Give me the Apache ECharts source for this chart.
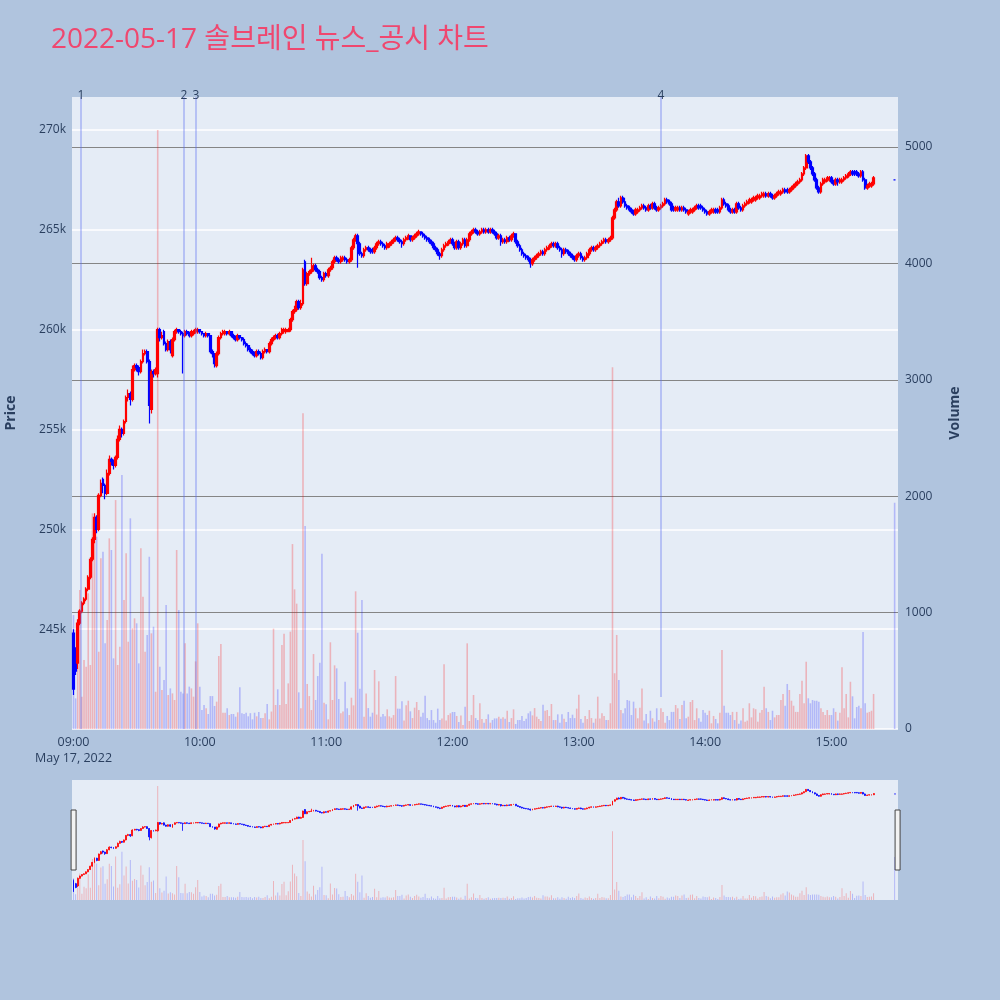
<!DOCTYPE html>
<html><head><meta charset="utf-8">
<script src="https://cdn.jsdelivr.net/npm/echarts@6/dist/echarts.min.js"></script>
<style>html,body{margin:0;padding:0;background:#b0c4de}#c{width:1000px;height:1000px}</style>
</head><body><div id="c"></div><script>
const chartTitle = '2022-05-17 솔브레인 뉴스_공시 차트';
// one row per minute from 09:00 to 15:20, then the 15:30 closing auction: [open, close, low, high]
const ohlc = [
[244800,242000,241700,245000],[243900,242900,242700,244100],[243300,245300,243000,245500],[245300,245900,245200,246000],[245900,246300,245800,246400],
[246300,246500,246200,246600],[246500,247000,246400,247100],[247000,247600,246900,247700],[247600,248500,247500,248600],[248500,249500,248400,249600],
[249500,250600,249300,250800],[250600,250000,249800,250700],[250000,251700,249900,251800],[251700,252300,251600,252500],[252500,252200,251800,252600],
[252200,251800,251500,252300],[251800,252800,251700,253000],[252800,253500,252700,253700],[253500,253400,253200,253600],[253400,253200,253000,253500],
[253200,253600,253100,253700],[253600,254500,253500,254700],[254500,255000,254400,255200],[255000,254800,254600,255100],[254800,255400,254700,255500],
[255400,256600,255300,256700],[256600,256800,256400,257000],[256800,256500,256200,256900],[256500,258000,256400,258200],[258000,258200,257900,258300],
[258200,258100,257900,258300],[258100,257900,257700,258200],[257900,258400,257800,258500],[258400,258800,258300,259000],[258800,258900,258700,259000],
[258900,258400,258300,259000],[258400,256200,255300,258500],[256000,257900,255800,258000],[257900,257800,257600,258000],[257800,258000,257700,258100],
[257800,260000,257600,260100],[260000,259600,259400,260100],[259600,259700,259500,259900],[259900,259300,259200,260000],[259300,259000,258900,259400],
[259000,259400,258900,259500],[259400,259000,258800,259500],[258700,259500,258600,259600],[259500,259900,259400,260000],[259900,260000,259800,260100],
[260000,259900,259800,260000],[259900,259800,259700,260000],[259800,259700,257800,259900],[259700,259900,259600,260000],[259900,259800,259700,260000],
[259800,259700,259600,259900],[259700,259900,259600,260000],[259800,259900,259700,260000],[259900,260000,259800,260100],[259900,260000,259800,260100],
[260000,259900,259800,260000],[259900,259800,259700,259900],[259800,259700,259600,259800],[259700,259800,259600,259900],[259800,259700,259600,259800],
[259700,258900,258800,259700],[258900,258800,258600,259000],[258800,258300,258100,258800],[258200,258800,258100,258900],[258800,259600,258700,259700],
[259600,259800,259500,259900],[259800,259900,259700,260000],[259800,259900,259700,260000],[259900,259800,259700,259900],[259800,259900,259700,260000],
[259900,259700,259600,259900],[259700,259600,259500,259800],[259600,259500,259400,259700],[259500,259700,259400,259800],[259700,259600,259500,259700],
[259600,259500,259400,259600],[259500,259300,259200,259600],[259300,259200,259100,259400],[259200,259000,258900,259300],[259000,258900,258800,259100],
[258900,258800,258700,259000],[258800,258700,258600,258900],[258700,258900,258600,259000],[258900,258800,258700,259000],[258800,258600,258500,258900],
[258600,258900,258500,259000],[258900,259000,258800,259100],[259000,258900,258800,259000],[258900,259300,258800,259400],[259300,259500,259200,259600],
[259500,259600,259400,259700],[259600,259700,259500,259800],[259700,259600,259500,259800],[259600,259800,259500,259900],[259800,260000,259700,260100],
[259900,260000,259800,260100],[259900,260000,259800,260100],[259900,260000,259900,260100],[260000,260500,259900,260600],[260500,260900,260400,261000],
[260900,261000,260800,261200],[261000,261400,260900,261500],[261400,261100,261000,261500],[261100,261300,261000,261500],[261300,263000,261200,263100],
[263400,262300,262200,263500],[262300,262800,262200,262900],[262800,262900,262700,263000],[262900,263000,262800,263600],[263000,263200,262900,263300],
[263200,263000,262900,263300],[263000,262900,262800,263100],[262900,262600,262500,263000],[262600,262500,262400,262700],[262500,262800,262400,262900],
[262800,262700,262600,262900],[262700,263000,262600,263100],[263000,263100,262900,263200],[263100,263400,263000,263500],[263400,263600,263300,263700],
[263600,263500,263400,263700],[263500,263400,263300,263600],[263400,263600,263300,263700],[263500,263600,263400,263700],[263600,263500,263400,263700],
[263500,263400,263300,263600],[263400,263500,263300,263600],[263500,264100,263400,264200],[264100,264500,264000,264600],[264500,264700,264400,264800],
[264700,264300,263100,264800],[264300,263800,263700,264400],[263800,263700,263600,263900],[263700,264000,263600,264100],[264000,264100,263900,264200],
[264100,264000,263900,264200],[264000,263900,263800,264100],[264000,263900,263800,264100],[263900,264100,263800,264200],[264100,264300,264000,264400],
[264300,264400,264200,264500],[264400,264300,264200,264500],[264300,264200,264100,264400],[264200,264100,264000,264300],[264100,264300,264000,264400],
[264200,264300,264100,264400],[264300,264400,264200,264500],[264400,264500,264300,264600],[264500,264600,264400,264700],[264600,264500,264400,264700],
[264500,264400,264300,264600],[264400,264300,264100,264500],[264300,264500,264200,264600],[264500,264600,264400,264700],[264600,264700,264500,264800],
[264700,264500,264400,264700],[264500,264600,264400,264700],[264600,264700,264500,264800],[264700,264800,264600,264900],[264800,264900,264700,265000],
[264900,264800,264700,264900],[264800,264700,264600,264900],[264700,264600,264500,264800],[264600,264500,264400,264700],[264500,264400,264300,264600],
[264400,264300,264200,264500],[264300,264100,264000,264400],[264100,264000,263900,264200],[264000,263800,263700,264100],[263800,263700,263500,263900],
[263700,264000,263600,264100],[264000,264200,263900,264300],[264200,264300,264100,264400],[264300,264400,264200,264500],[264400,264500,264300,264600],
[264500,264300,264200,264600],[264300,264100,264000,264400],[264100,264400,264000,264500],[264400,264100,264000,264500],[264100,264300,264000,264400],
[264300,264500,264200,264600],[264500,264200,264100,264600],[264200,264500,264100,264600],[264500,264800,264400,264900],[264800,264900,264700,265000],
[264900,265000,264800,265100],[265000,264900,264800,265100],[264900,264800,264700,265000],[264800,264900,264700,265000],[264900,265000,264800,265100],
[265000,264900,264800,265100],[264900,265000,264800,265100],[265000,264900,264800,265100],[264900,265000,264800,265100],[265000,264900,264800,265100],
[264900,264800,264700,265000],[264800,264600,264500,264900],[264600,264700,264500,264800],[264700,264400,264200,264800],[264400,264500,264300,264600],
[264500,264400,264300,264600],[264400,264600,264300,264700],[264600,264500,264400,264700],[264500,264700,264400,264800],[264700,264800,264600,264900],
[264800,264400,264300,264800],[264400,264200,264100,264500],[264200,264000,263900,264300],[264000,263800,263700,264100],[263800,263700,263600,263900],
[263700,263600,263500,263800],[263600,263500,263400,263700],[263500,263300,263100,263600],[263300,263500,263200,263600],[263500,263600,263400,263700],
[263600,263700,263500,263800],[263700,263800,263600,263900],[263800,263900,263700,264000],[263900,263800,263700,264000],[263800,264000,263700,264100],
[264000,264100,263900,264200],[264100,264200,264000,264300],[264200,264300,264100,264400],[264300,264200,264100,264400],[264200,264300,264100,264400],
[264300,264100,264000,264400],[264100,264000,263900,264200],[264000,263800,263600,264100],[263800,264000,263700,264100],[264000,263900,263800,264100],
[263900,263800,263700,264000],[263800,263700,263600,263900],[263700,263600,263500,263800],[263600,263500,263400,263700],[263500,263700,263400,263800],
[263700,263800,263600,263900],[263800,263600,263500,263900],[263600,263500,263400,263700],[263500,263600,263400,263700],[263600,263800,263500,263900],
[263800,264000,263700,264100],[264000,264100,263900,264200],[264100,264000,263900,264200],[264000,264100,263900,264200],[264100,264200,264000,264300],
[264200,264300,264100,264400],[264300,264400,264200,264500],[264400,264500,264300,264600],[264500,264400,264300,264600],[264400,264500,264300,264600],
[264500,264600,264400,264700],[264600,265600,264500,265700],[265600,266000,265500,266100],[266000,266400,265900,266500],[266400,266200,266100,266600],
[266200,266600,266100,266700],[266600,266400,266300,266700],[266400,266200,266100,266600],[266200,266100,266000,266300],[266100,266000,265900,266200],
[266000,265900,265800,266100],[265900,265800,265700,266000],[265800,266000,265700,266100],[265900,266000,265800,266100],[266000,266100,265900,266200],
[266100,266200,266000,266300],[266200,266100,266000,266300],[266100,266000,265900,266200],[266000,266200,265900,266300],[266200,266100,266000,266300],
[266100,266300,266000,266400],[266300,266100,266000,266400],[266100,266000,265900,266200],[266000,266100,265900,266200],[266100,266200,266000,266300],
[266200,266300,266100,266400],[266300,266500,266200,266600],[266500,266400,266300,266600],[266400,266300,266200,266500],[266300,266000,265900,266400],
[266100,266000,265900,266200],[266000,266100,265900,266200],[266000,266100,265900,266200],[266100,266000,265900,266200],[266000,266100,265900,266200],
[266100,266000,265900,266200],[266000,265900,265800,266100],[265800,265900,265700,266000],[265900,266000,265800,266100],[265900,266000,265800,266100],
[266000,266100,265900,266200],[266100,266200,266000,266300],[266200,266100,266000,266300],[266200,266100,266000,266300],[266100,266000,265900,266200],
[266000,265900,265800,266100],[265900,265800,265700,266000],[265800,265900,265700,266000],[265900,266000,265800,266100],[265900,266000,265800,266100],
[266000,265900,265800,266100],[266000,265900,265800,266100],[265900,266100,265800,266200],[266100,266500,266000,266600],[266500,266300,266200,266600],
[266300,266200,266100,266400],[266200,266000,265900,266300],[266000,265900,265800,266100],[265900,266000,265800,266100],[266000,265900,265800,266100],
[265900,266300,265800,266400],[266300,266100,266000,266400],[266100,266000,265900,266200],[266000,266200,265900,266300],[266200,266300,266100,266400],
[266300,266400,266200,266500],[266400,266500,266300,266600],[266400,266500,266300,266600],[266500,266600,266400,266700],[266500,266600,266400,266700],
[266600,266700,266500,266800],[266600,266700,266500,266800],[266700,266800,266600,266900],[266700,266800,266600,266900],[266800,266700,266600,266900],
[266700,266800,266600,266900],[266800,266700,266600,266900],[266700,266600,266500,266800],[266600,266700,266500,266800],[266700,266800,266600,266900],
[266800,266900,266700,267000],[266800,266900,266700,267000],[266900,267000,266800,267100],[267000,266900,266800,267100],[267000,266900,266800,267100],
[266900,267000,266800,267100],[267000,267100,266900,267200],[267100,267200,267000,267300],[267200,267300,267100,267400],[267300,267400,267200,267500],
[267400,267500,267300,267600],[267500,267800,267400,267900],[267800,268100,267700,268200],[268100,268700,268000,268800],[268700,268400,268300,268800],
[268400,268100,268000,268500],[268100,267800,267700,268200],[267800,267500,267400,267900],[267500,267100,267000,267600],[267100,266900,266800,267200],
[266900,267300,266800,267400],[267300,267500,267200,267600],[267400,267500,267300,267600],[267500,267600,267400,267700],[267500,267600,267400,267700],
[267600,267400,267300,267700],[267400,267300,267200,267500],[267300,267500,267200,267600],[267500,267400,267200,267600],[267400,267500,267300,267600],
[267400,267500,267300,267600],[267500,267600,267400,267700],[267600,267700,267500,267800],[267700,267800,267600,267900],[267800,267900,267700,268000],
[267900,267800,267700,268000],[267900,267800,267700,268000],[267900,267800,267700,268000],[267800,267700,267600,267900],[267700,267900,267600,268000],
[267900,267500,267400,268000],[267500,267100,267000,267600],[267100,267200,267000,267300],[267200,267300,267100,267400],[267200,267300,267100,267400],
[267300,267600,267200,267700],
[267500,267500,267500,267500]
];
const volumes = [
979,263,564,1194,278,593,535,1166,550,1853,1810,1652,664,1466,1523,736,936,1638,1538,607,
1967,550,707,2182,1108,1509,750,1810,865,951,908,564,1552,1137,664,808,1480,822,879,320,5146,
535,335,421,1065,292,349,306,249,1538,1022,320,306,736,306,364,349,278,581,908,
364,163,206,178,129,283,283,198,235,627,730,140,140,178,120,129,129,106,143,358,136,129,140,109,136,83,140,109,146,94,
94,136,215,83,150,862,206,341,206,722,819,215,392,836,1589,1200,1077,315,178,2712,1744,387,283,163,644,249,455,570,1506,225,
212,83,745,249,547,521,258,136,150,406,178,120,269,203,1183,827,346,1108,106,306,180,106,140,507,124,410,106,129,109,169,
109,97,120,455,175,
175,238,72,204,243,152,94,183,232,163,106,140,286,94,77,163,77,54,175,77,91,556,72,120,135,146,146,112,60,117,
34,192,736,69,120,292,94,77,221,86,54,86,126,54,77,91,91,106,89,101,89,157,60,94,169,43,77,77,112,69,
89,135,152,117,180,106,86,69,209,157,163,112,215,77,77,126,54,126,89,60,146,94,123,94,175,295,86,54,112,86,
163,94,54,89,278,91,135,112,77,77,
221,3107,479,808,421,163,135,178,249,243,120,235,178,92,183,349,72,129,49,157,
92,63,178,77,178,147,54,112,77,147,147,206,178,86,206,243,92,106,232,249,77,178,92,63,163,140,120,157,49,
112,86,49,140,679,200,140,140,120,147,77,147,46,72,178,63,72,221,100,178,170,63,140,163,364,178,147,77,157,100,
120,120,249,301,200,387,335,243,200,147,147,301,415,221,578,264,221,249,243,243,235,178,147,120,163,120,120,178,147,72,
140,530,178,301,100,406,281,92,189,200,178,833,221,140,147,157,301,
1944
];
const closingAuctionMinute = 390;
const timeTickMinutes = [0, 60, 120, 180, 240, 300, 360];
const timeTickLabels = ['09:00', '10:00', '11:00', '12:00', '13:00', '14:00', '15:00'];
const dateLabel = 'May 17, 2022';
const newsLabels = ['1', '2', '3', '4'];
const newsMinutes = [3.5, 52.5, 58.2, 279];
const newsLineBottomVolume = [0, 0, 0, 275];

const FONT = "'Open Sans', 'Noto Sans CJK KR', sans-serif";
const TXT = '#2a3f5f';
const UP = '#ff0000', DOWN = '#0000ff';
const minutes = ohlc.map((_, i) => (i < ohlc.length - 1 ? i : closingAuctionMinute));
const isUp = r => r[1] > r[0];
const candleData = ohlc.map((r, i) => [minutes[i], r[0], r[1], r[2], r[3]]);
const volData = volumes.map((v, i) => ({
  value: [minutes[i], v],
  itemStyle: { color: isUp(ohlc[i]) ? 'rgba(255,0,0,0.24)' : 'rgba(0,0,255,0.22)' }
}));
const candleStyle = { color: UP, color0: DOWN, borderColor: UP, borderColor0: DOWN, borderColorDoji: DOWN, borderWidth: 1.2 };
const newsLines = newsMinutes.map((m, i) => [
  { coord: [m, 5430], label: { formatter: newsLabels[i] } },
  { coord: [m, newsLineBottomVolume[i]] }
]);

const chart = echarts.init(document.getElementById('c'), null, { renderer: 'canvas' });
chart.setOption({
  animation: false,
  backgroundColor: '#b0c4de',
  textStyle: { fontFamily: FONT },
  title: {
    text: chartTitle, left: 46, top: 21,
    textStyle: { color: '#ef476f', fontSize: 28, fontWeight: 'normal', fontFamily: FONT }
  },
  grid: [
    { left: 72, top: 97, width: 826, height: 632, show: true, backgroundColor: '#e5ecf6', borderWidth: 0, containLabel: false, outerBoundsMode: 'none' },
    { left: 72, top: 780, width: 826, height: 120, show: true, backgroundColor: '#e5ecf6', borderWidth: 0, containLabel: false, outerBoundsMode: 'none' }
  ],
  xAxis: [
    {
      type: 'value', gridIndex: 0, min: -0.71, max: 391.6,
      axisLine: { show: false }, axisTick: { show: false }, splitLine: { show: false },
      axisLabel: {
        customValues: timeTickMinutes,
        formatter: v => {
          const k = timeTickMinutes.indexOf(v);
          if (k < 0) return '';
          return k === 0 ? timeTickLabels[k] + '\n' + dateLabel : timeTickLabels[k];
        },
        color: TXT, fontSize: 12.5, margin: 5, lineHeight: 16
      }
    },
    { type: 'value', gridIndex: 1, min: -0.71, max: 391.6, show: false }
  ],
  yAxis: [
    {
      type: 'value', gridIndex: 0, position: 'left', min: 240000, max: 271650, interval: 5000,
      axisLine: { show: false }, axisTick: { show: false },
      axisLabel: {
        formatter: v => (v % 5000 === 0 && v > 240000 ? (v / 1000) + 'k' : ''),
        showMinLabel: false, showMaxLabel: false, color: TXT, fontSize: 12, margin: 6
      },
      splitLine: { lineStyle: { color: '#ffffff', width: 1.5 }, showMaxLine: false },
      name: 'Price', nameLocation: 'middle', nameGap: 54, nameRotate: 90,
      nameTextStyle: { color: TXT, fontSize: 14, fontWeight: 'bold', fontFamily: FONT }
    },
    {
      type: 'value', gridIndex: 0, position: 'right', min: 0, max: 5430, interval: 1000,
      axisLine: { show: false }, axisTick: { show: false },
      axisLabel: {
        formatter: v => (v % 1000 === 0 ? String(v) : ''),
        showMaxLabel: false, color: TXT, fontSize: 12, margin: 7
      },
      splitLine: { lineStyle: { color: '#858585', width: 1.2 }, showMinLine: false, showMaxLine: false },
      name: 'Volume', nameLocation: 'middle', nameGap: 50, nameRotate: 90,
      nameTextStyle: { color: TXT, fontSize: 14, fontWeight: 'bold', fontFamily: FONT }
    },
    { type: 'value', gridIndex: 1, min: 239600, max: 271170, show: false },
    { type: 'value', gridIndex: 1, min: 0, max: 5417, show: false }
  ],
  dataZoom: [{
    type: 'slider', xAxisIndex: [0, 1], filterMode: 'none', start: 0, end: 100,
    left: 72, width: 826, top: 780, height: 120,
    showDetail: false, showDataShadow: false, brushSelect: false,
    backgroundColor: 'rgba(0,0,0,0)', fillerColor: 'rgba(0,0,0,0)', borderColor: 'rgba(0,0,0,0)',
    handleIcon: 'path://M0,0 L5,0 L5,60 L0,60 Z', handleSize: '50%',
    handleStyle: { color: '#f2f2f2', borderColor: '#444444', borderWidth: 1 },
    moveHandleSize: 0, emphasis: { handleStyle: { color: '#f2f2f2', borderColor: '#444444' } }
  }],
  series: [
    {
      type: 'bar', name: 'Volume', xAxisIndex: 0, yAxisIndex: 1, data: volData,
      barWidth: 1.6, z: 2, silent: true,
      markLine: {
        silent: true, symbol: ['none', 'none'],
        lineStyle: { color: 'rgba(90,110,240,0.45)', width: 1.5, type: 'solid' },
        label: { show: true, position: 'start', distance: -5, color: TXT, fontSize: 12, fontFamily: FONT },
        data: newsLines
      }
    },
    {
      type: 'candlestick', name: 'Price', xAxisIndex: 0, yAxisIndex: 0, data: candleData,
      encode: { x: 0, y: [1, 2, 3, 4] }, barWidth: 2.2, z: 3, itemStyle: candleStyle
    },
    {
      type: 'bar', xAxisIndex: 1, yAxisIndex: 3, data: volData, barWidth: 1, silent: true, z: 2
    },
    {
      type: 'candlestick', xAxisIndex: 1, yAxisIndex: 2, data: candleData,
      encode: { x: 0, y: [1, 2, 3, 4] }, barWidth: 1.4, z: 3, silent: true,
      itemStyle: Object.assign({}, candleStyle, { borderWidth: 0.8 })
    }
  ]
});
</script></body></html>
